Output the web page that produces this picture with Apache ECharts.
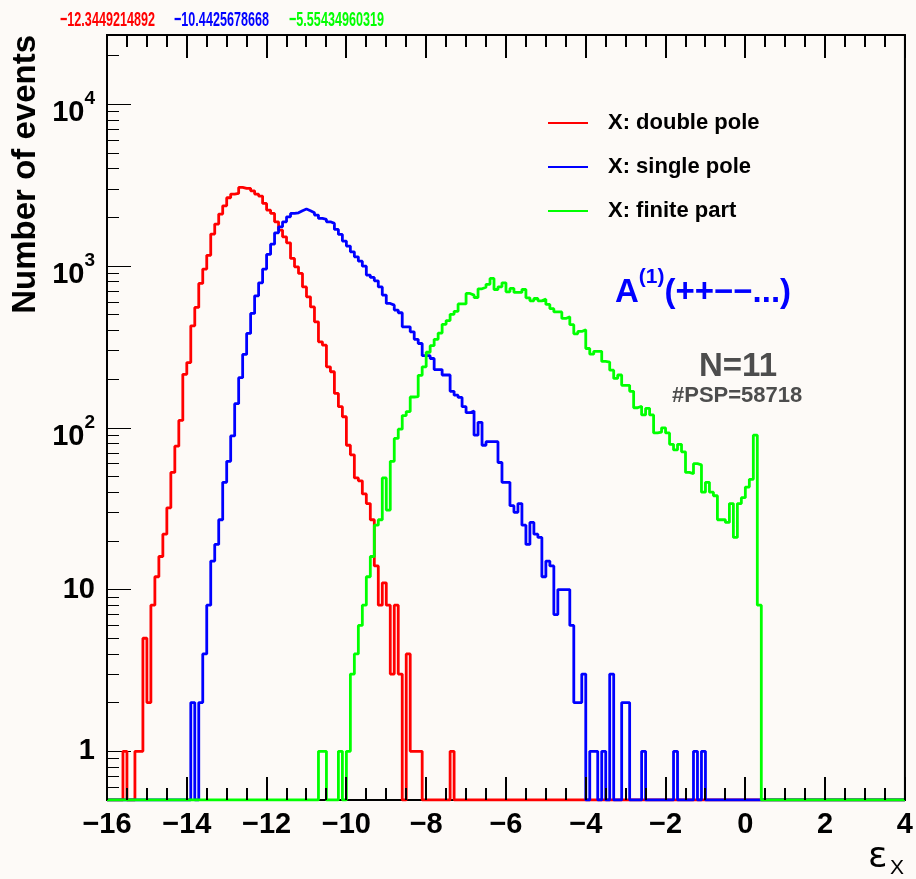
<!DOCTYPE html>
<html>
<head>
<meta charset="utf-8">
<style>
  html, body { margin: 0; padding: 0; background: #fdfaf7; }
  #chart { width: 916px; height: 879px; }
</style>
<script src="https://cdn.jsdelivr.net/npm/echarts@6/dist/echarts.min.js"></script>
</head>
<body>
<div id="chart"></div>
<script>
// histogram binning: 200 bins of 0.1 between -16 and 4
const xMin = -16, xMax = 4, binWidth = 0.1, nBins = 200;
const yMin = 0.5, yMax = 26800;

const seriesNames = ['X: double pole', 'X: single pole', 'X: finite part'];
const seriesColors = ['#ff0000', '#0000ff', '#00ff00'];
const meanLabels = ['\u221212.3449214892', '\u221210.4425678668', '\u22125.55434960319'];

// index of the first filled bin, then the bin contents from there on
const redFirstBin = 4;
const redCounts = [1, 0, 0, 1, 1, 5, 2, 8, 12, 16, 22, 32, 53, 77, 111, 214, 253, 427, 555, 780,
  957, 1164, 1575, 1816, 2094, 2356, 2642, 2786, 2812, 3062, 3020, 3020, 2917, 2786, 2706, 2438,
  2217, 2115, 1876, 1667, 1516, 1391, 1114, 988, 900, 743, 645, 559, 452, 340, 324, 238, 222, 163,
  135, 117, 78, 68, 49, 47, 39, 34, 27, 14, 8, 11, 8, 3, 8, 3, 0, 4, 1, 1, 1, 0, 0, 0, 0, 0, 0, 0, 1];

const blueFirstBin = 21;
const blueCounts = [2, 0, 2, 4, 8, 15, 19, 27, 46, 62, 89, 141, 204, 284, 383, 509, 654, 787, 957,
  1180, 1365, 1604, 1747, 1876, 2015, 2115, 2134, 2195, 2249, 2195, 2134, 2064, 1969, 1940, 1876,
  1834, 1684, 1567, 1426, 1328, 1224, 1140, 1072, 998, 879, 850, 810, 743, 661, 587, 573, 534, 514,
  421, 421, 392, 352, 332, 279, 279, 268, 229, 229, 212, 212, 168, 159, 154, 135, 124, 127, 90, 108,
  78, 82, 82, 82, 61, 46, 46, 33, 30, 34, 25, 19, 26, 22, 21, 12, 15, 14, 7, 10, 10, 10, 6, 2, 2, 3,
  0, 1, 1, 0, 1, 0, 3, 0, 0, 2, 2, 0, 0, 0, 1, 0, 0, 0, 0, 0, 0, 0, 1, 0, 0, 0, 0, 1, 0, 1];

const greenFirstBin = 53;
const greenCounts = [1, 1, 0, 0, 0, 1, 0, 1, 3, 4, 6, 8, 12, 16, 25, 27, 49, 31, 62, 86, 98, 119,
  126, 155, 156, 211, 238, 293, 322, 352, 385, 436, 460, 503, 525, 583, 583, 677, 661, 639, 723, 740,
  771, 838, 716, 744, 787, 693, 727, 687, 687, 716, 636, 609, 630, 609, 624, 579, 545, 520, 520, 474,
  485, 434, 381, 394, 403, 309, 285, 297, 297, 257, 255, 227, 202, 212, 183, 183, 168, 133, 136, 120,
  132, 120, 93, 94, 100, 93, 79, 73, 79, 71, 53, 52, 60, 59, 40, 46, 40, 38, 27, 27, 26, 34, 21, 34,
  37, 43, 48, 90, 8];

// tick positions
const xMajorValues = [-16, -14, -12, -10, -8, -6, -4, -2, 0, 2, 4];
const xMinorValues = [-15.5, -15, -14.5, -13.5, -13, -12.5, -11.5, -11, -10.5, -9.5, -9, -8.5,
  -7.5, -7, -6.5, -5.5, -5, -4.5, -3.5, -3, -2.5, -1.5, -1, -0.5, 0.5, 1, 1.5, 2.5, 3, 3.5];
const yLabelValues = [1, 10, 100, 1000, 10000];
const yMinorValues = [0.6, 0.7, 0.8, 0.9, 2, 3, 4, 5, 6, 7, 8, 9, 20, 30, 40, 50, 60, 70, 80, 90,
  200, 300, 400, 500, 600, 700, 800, 900, 2000, 3000, 4000, 5000, 6000, 7000, 8000, 9000, 20000];

const font = 'Liberation Sans, Arial, Helvetica, sans-serif';

// step outline: one point per bin left edge, empty bins sit on the axis floor
function histPoints(firstBin, counts) {
  const pts = [];
  for (let i = 0; i < nBins; i++) {
    const j = i - firstBin;
    const c = j >= 0 && j < counts.length ? counts[j] : 0;
    pts.push([+(xMin + i * binWidth).toFixed(2), Math.max(c, yMin)]);
  }
  pts.push([xMax, pts[nBins - 1][1]]);
  return pts;
}

const histData = [
  histPoints(redFirstBin, redCounts),
  histPoints(blueFirstBin, blueCounts),
  histPoints(greenFirstBin, greenCounts)
];

const chart = echarts.init(document.getElementById('chart'));

const textGraphics = [
  {
    type: 'text', x: 26, y: 35, rotation: Math.PI / 2,
    style: { text: 'Number of events', fontSize: 33, fontWeight: 'bold', fontFamily: font, fill: '#000', align: 'right', verticalAlign: 'middle' }
  },
  ...meanLabels.map((t, i) => ({
    type: 'text', x: [60, 174, 289][i], y: 20, scaleX: 0.6,
    style: { text: t, fontSize: 21, fontWeight: 'bold', fontFamily: font, fill: seriesColors[i], align: 'left', verticalAlign: 'middle' }
  })),
  {
    type: 'text', x: 615, y: 283,
    style: {
      text: '{a|A}{s|(1)}{a|(++\u2212\u2212...)}', align: 'left', verticalAlign: 'middle',
      rich: {
        a: { fontSize: 33, fontWeight: 'bold', fontFamily: font, fill: '#0000ff', lineHeight: 33, padding: [10, 0, 0, 0], verticalAlign: 'top' },
        s: { fontSize: 21, fontWeight: 'bold', fontFamily: font, fill: '#0000ff', lineHeight: 21, verticalAlign: 'top' }
      }
    }
  },
  {
    type: 'text', x: 699, y: 367,
    style: { text: 'N=11', fontSize: 33, fontWeight: 'bold', fontFamily: font, fill: '#4d4d4d', align: 'left', verticalAlign: 'middle' }
  },
  {
    type: 'text', x: 672, y: 396,
    style: { text: '#PSP=58718', fontSize: 22, fontWeight: 'bold', fontFamily: font, fill: '#4d4d4d', align: 'left', verticalAlign: 'middle' }
  },
  {
    type: 'text', x: 868, y: 858,
    style: { text: '\u03b5', fontSize: 36, fontFamily: 'DejaVu Sans, ' + font, fill: '#000', align: 'left', verticalAlign: 'middle' }
  },
  {
    type: 'text', x: 890, y: 868,
    style: { text: 'X', fontSize: 21, fontFamily: font, fill: '#000', align: 'left', verticalAlign: 'middle' }
  }
];

const option = {
  backgroundColor: '#fdfaf7',
  animation: false,
  grid: {
    left: 107, right: 8, top: 35, bottom: 79,
    show: true, borderColor: '#000', borderWidth: 2, backgroundColor: 'transparent'
  },
  xAxis: [
    {
      type: 'value', min: xMin, max: xMax, position: 'bottom',
      axisLine: { show: true, onZero: false, lineStyle: { color: '#000', width: 2 } },
      axisTick: { show: false },
      splitLine: { show: false },
      axisLabel: {
        customValues: xMajorValues,
        margin: 10, color: '#000', fontSize: 29, fontWeight: 'bold', fontFamily: font,
        formatter: v => (v < 0 ? '\u2212' + (-v) : String(v))
      }
    }
  ],
  yAxis: [
    {
      type: 'log', logBase: 10, min: yMin, max: yMax, position: 'left',
      axisLine: { show: true, onZero: false, lineStyle: { color: '#000', width: 2 } },
      axisTick: { show: true, inside: true, length: 24, customValues: yLabelValues, lineStyle: { color: '#000' } },
      splitLine: { show: false },
      axisLabel: {
        customValues: yLabelValues,
        margin: 12, color: '#000', fontSize: 29, fontWeight: 'bold', fontFamily: font,
        formatter: v => {
          const e = Math.round(Math.log10(v));
          return e < 2 ? String(Math.round(v)) : '{b|10}{s|' + e + '}';
        },
        rich: {
          b: { fontSize: 29, fontWeight: 'bold', fontFamily: font, color: '#000', padding: [18, 0, 0, 0], verticalAlign: 'top' },
          s: { fontSize: 19, fontWeight: 'bold', fontFamily: font, color: '#000', padding: [9, 0, 0, 0], verticalAlign: 'top' }
        }
      }
    },
    {
      type: 'log', logBase: 10, min: yMin, max: yMax, position: 'left',
      axisLine: { show: false, onZero: false },
      axisTick: { show: true, inside: true, length: 12, customValues: yMinorValues, lineStyle: { color: '#000' } },
      axisLabel: { show: false },
      splitLine: { show: false }
    }
  ],
  legend: {
    orient: 'vertical', left: 548, top: 112, padding: 0,
    icon: 'rect', itemWidth: 40, itemHeight: 2, itemGap: 22,
    textStyle: { fontSize: 22, fontWeight: 'bold', color: '#000', fontFamily: font, lineHeight: 22, padding: [0, 0, 0, 15] },
    data: seriesNames
  },
  series: seriesNames.map((name, i) => ({
    name: name,
    type: 'line',
    step: 'end',
    symbol: 'none',
    data: histData[i],
    lineStyle: { color: seriesColors[i], width: 2.8 },
    itemStyle: { color: seriesColors[i] }
  })),
  graphic: textGraphics
};

chart.setOption(option);

// inward x ticks on the bottom and top frame edges, positioned through the x scale
const tickGraphics = [];
xMajorValues.concat(xMinorValues).forEach(v => {
  const len = xMajorValues.indexOf(v) >= 0 ? 23 : 12;
  const b = chart.convertToPixel({ xAxisIndex: 0, yAxisIndex: 0 }, [v, yMin]);
  const t = chart.convertToPixel({ xAxisIndex: 0, yAxisIndex: 0 }, [v, yMax]);
  const px = Math.round(b[0]) - 1;
  tickGraphics.push(
    { type: 'rect', silent: true, z: 100, shape: { x: px, y: b[1] - len, width: 2, height: len }, style: { fill: '#000' } },
    { type: 'rect', silent: true, z: 100, shape: { x: px, y: t[1], width: 2, height: len }, style: { fill: '#000' } }
  );
});
chart.setOption({ graphic: textGraphics.concat(tickGraphics) });
</script>
</body>
</html>
